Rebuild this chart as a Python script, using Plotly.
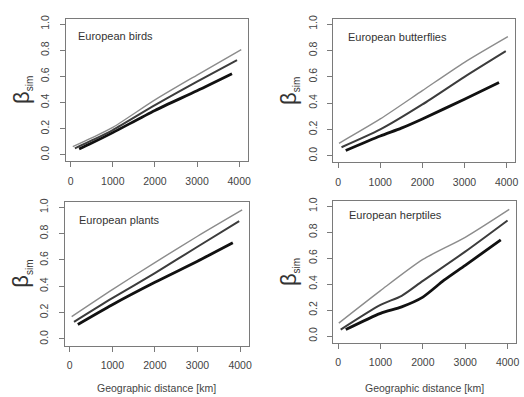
import plotly.graph_objects as go

# ---- data ----
panel_titles = ["European birds", "European butterflies", "European plants", "European herptiles"]

# birds
birds_light_x = [50, 500, 1000, 2000, 3000, 4050]
birds_light_y = [0.063, 0.13, 0.21, 0.42, 0.61, 0.805]
birds_dark_x = [100, 500, 1000, 2000, 3000, 3950]
birds_dark_y = [0.05, 0.11, 0.19, 0.38, 0.56, 0.725]
birds_black_x = [200, 500, 1000, 2000, 3000, 3830]
birds_black_y = [0.045, 0.09, 0.17, 0.34, 0.49, 0.62]

# butterflies
butt_light_x = [20, 1000, 2000, 3000, 4030]
butt_light_y = [0.095, 0.28, 0.495, 0.71, 0.905]
butt_dark_x = [80, 1000, 2000, 3000, 3980]
butt_dark_y = [0.065, 0.20, 0.39, 0.60, 0.795]
butt_black_x = [180, 1000, 1500, 2000, 3000, 3820]
butt_black_y = [0.04, 0.15, 0.21, 0.28, 0.43, 0.557]

# plants
plant_light_x = [45, 1000, 2000, 3000, 4050]
plant_light_y = [0.17, 0.375, 0.58, 0.78, 0.98]
plant_dark_x = [100, 1000, 2000, 3000, 3980]
plant_dark_y = [0.13, 0.31, 0.50, 0.70, 0.895]
plant_black_x = [190, 1000, 2000, 3000, 3830]
plant_black_y = [0.11, 0.26, 0.43, 0.59, 0.73]

# herptiles
herp_light_x = [15, 1000, 2000, 3000, 4040]
herp_light_y = [0.10, 0.35, 0.59, 0.76, 0.975]
herp_dark_x = [60, 1000, 1500, 2000, 3000, 4000]
herp_dark_y = [0.05, 0.24, 0.31, 0.425, 0.65, 0.89]
herp_black_x = [180, 1000, 1500, 2000, 2500, 3000, 3840]
herp_black_y = [0.05, 0.175, 0.225, 0.30, 0.43, 0.545, 0.74]

x_ticks = [0, 1000, 2000, 3000, 4000]
y_ticks = [0.0, 0.2, 0.4, 0.6, 0.8, 1.0]
x_label = "Geographic distance [km]"

panels = [
    [(birds_light_x, birds_light_y), (birds_dark_x, birds_dark_y), (birds_black_x, birds_black_y)],
    [(butt_light_x, butt_light_y), (butt_dark_x, butt_dark_y), (butt_black_x, butt_black_y)],
    [(plant_light_x, plant_light_y), (plant_dark_x, plant_dark_y), (plant_black_x, plant_black_y)],
    [(herp_light_x, herp_light_y), (herp_dark_x, herp_dark_y), (herp_black_x, herp_black_y)],
]

W, H = 524, 397
# panel boxes in pixels: (left, right, top, bottom)
boxes = [(66, 249, 15, 159), (335, 518, 15, 160), (65, 250, 200, 345), (335, 519, 199, 342)]
title_pos = [(0.055, 0.88), (0.071, 0.876), (0.065, 0.876), (0.076, 0.90)]

styles = [dict(color="#8c8c8c", width=1.4), dict(color="#3c3c3c", width=2), dict(color="#111111", width=2.8)]

fig = go.Figure()
font_fam = "Liberation Sans, Arial, sans-serif"
ann = []
for i, (series, box) in enumerate(zip(panels, boxes)):
    n = "" if i == 0 else str(i + 1)
    l, r, t, b = box
    xd = [l / W, r / W]
    yd = [1 - b / H, 1 - t / H]
    for (xs, ys), st in zip(series, styles):
        fig.add_trace(go.Scatter(x=xs, y=ys, mode="lines", line=dict(shape="spline", smoothing=0.7, **st),
                                 xaxis="x" + n, yaxis="y" + n, showlegend=False, hoverinfo="skip"))
    common = dict(showline=True, linecolor="#7a7a7a", linewidth=1, mirror=True, ticks="outside",
                  ticklen=5, tickcolor="#7a7a7a", tickwidth=1, showgrid=False, zeroline=False,
                  tickfont=dict(family=font_fam, size=10.5, color="#444444"))
    fig.update_layout(**{
        "xaxis" + n: dict(domain=xd, range=[-120, 4200], tickvals=x_ticks, anchor="y" + n,
                          ticklabelstandoff=5, **common),
        "yaxis" + n: dict(domain=yd, range=[-0.05, 1.04], tickvals=y_ticks, tickformat=".1f",
                          tickangle=-90, anchor="x" + n, ticklabelstandoff=6, **common),
    })
    tx, ty = title_pos[i]
    ann.append(dict(text=panel_titles[i], xref="x" + n + " domain", yref="y" + n + " domain",
                    x=tx, y=ty, xanchor="left", yanchor="middle", showarrow=False,
                    font=dict(family=font_fam, size=11, color="#333333")))
    # y label
    ann.append(dict(text="β<sub><span style='font-size:10px'>sim</span></sub>", xref="paper", yref="paper",
                    x=(22 if i % 2 == 0 else 291) / W, y=1 - ((t + b) / 2) / H,
                    xanchor="center", yanchor="middle", textangle=-90, showarrow=False,
                    font=dict(family=font_fam, size=22, color="#333333")))
    if i >= 2:
        ann.append(dict(text=x_label, xref="paper", yref="paper",
                        x=((l + r) / 2) / W, y=1 - 388 / H, xanchor="center", yanchor="middle",
                        showarrow=False, font=dict(family=font_fam, size=10.5, color="#444444")))

fig.update_layout(width=W, height=H, margin=dict(l=0, r=0, t=0, b=0),
                  paper_bgcolor="white", plot_bgcolor="white", annotations=ann)
fig.write_html("out.html", config={"displayModeBar": False},
               post_script="document.body.style.margin='0';document.body.style.overflow='hidden';")
